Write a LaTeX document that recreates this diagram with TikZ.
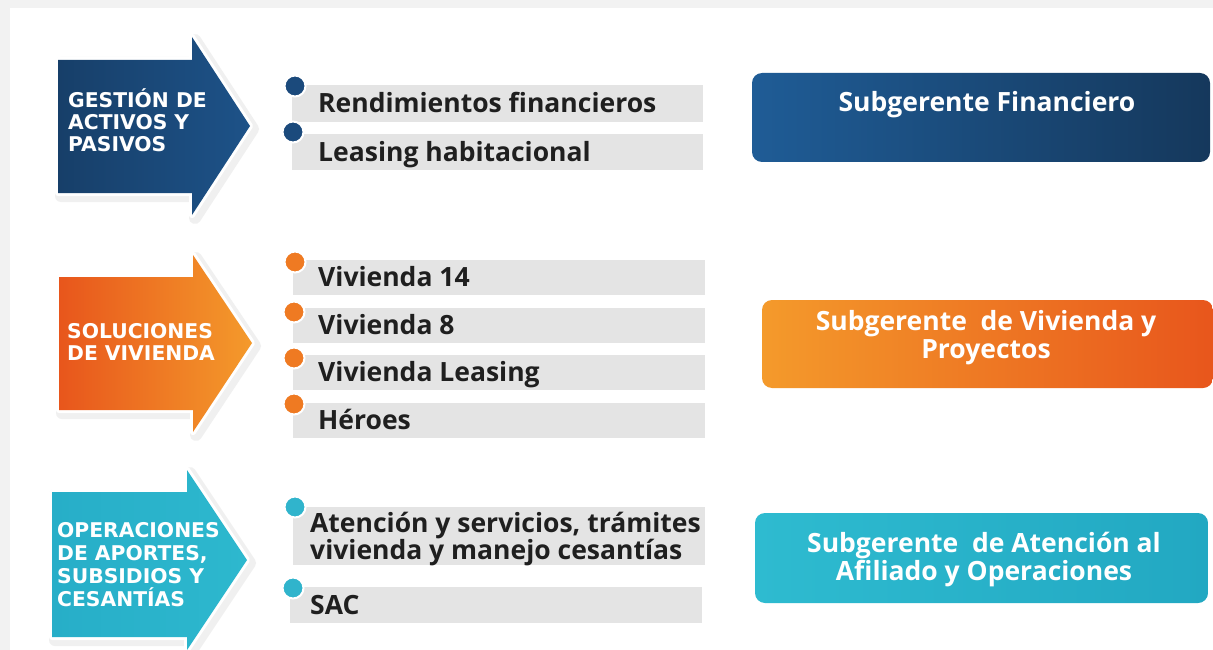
\documentclass[tikz,border=0pt]{standalone}
\usepackage{fontspec}
\setmainfont{Open Sans}
\newfontfamily\capsfont{DejaVu Sans}
\definecolor{barg}{HTML}{E4E4E4}
\definecolor{bgg}{HTML}{F2F2F2}
\definecolor{blueA}{HTML}{173F69}
\definecolor{blueB}{HTML}{1D5288}
\definecolor{blueBoxA}{HTML}{1F5C96}
\definecolor{blueBoxB}{HTML}{15385C}
\definecolor{orA}{HTML}{E8561C}
\definecolor{orB}{HTML}{F49A2B}
\definecolor{tealA}{HTML}{27AEC8}
\definecolor{tealB}{HTML}{2DB8CE}
\definecolor{tealBoxA}{HTML}{2EBBD0}
\definecolor{tealBoxB}{HTML}{22A8C2}
\definecolor{dotBlue}{HTML}{1B4A7C}
\definecolor{dotOr}{HTML}{EF7A22}
\definecolor{dotTeal}{HTML}{30B4CC}
\begin{document}
\begin{tikzpicture}[x=1pt,y=-1pt,
  bar/.style={fill=barg},
  item/.style={anchor=base west, inner sep=0, font=\bfseries\fontsize{26.5}{26.5}\selectfont, text=black!88},
  capt/.style={anchor=base west, inner sep=0, font=\capsfont\bfseries\fontsize{20.3}{20.3}\selectfont, text=white},
  boxtxt/.style={anchor=base, inner sep=0, font=\bfseries\fontsize{26.5}{26.5}\selectfont, text=white},
  glow/.style={draw=black!6, line width=12, line join=round},
  rim/.style={draw=white, line width=6, line join=round},
  dot/.style={circle, draw=white, line width=2, minimum size=21, inner sep=0},
  rbox/.style={rounded corners=10pt}
]
\useasboundingbox (0,0) rectangle (1213,650);
\clip (0,0) rectangle (1213,650);
\fill[bgg] (0,0) rectangle (1213,650);
\fill[white] (10,8) rectangle (1213,650);

% ---------- arrow 1 (blue)
\path[glow] ([shift={(3,3)}]58,60) -- ++(134,0) -- ++(0,-23) -- ++(58,89) -- ++(-58,89) -- ++(0,-22) -- ++(-134,0) -- cycle;
\path[rim] (58,60) -- (192,60) -- (192,37) -- (250,126) -- (192,215) -- (192,193) -- (58,193) -- cycle;
\path[left color=blueA, right color=blueB] (58,60) -- (192,60) -- (192,37) -- (250,126) -- (192,215) -- (192,193) -- (58,193) -- cycle;
\node[capt] (g1) at (68,108) {GESTIÓN DE};
\node[capt] (g2) at (68,130) {ACTIVOS Y};
\node[capt] (g3) at (68,152) {PASIVOS};

% ---------- arrow 2 (orange)
\path[glow] ([shift={(3,3)}]59,277) -- ++(134,0) -- ++(0,-22) -- ++(59,88) -- ++(-59,89) -- ++(0,-22) -- ++(-134,0) -- cycle;
\path[rim] (59,277) -- (193,277) -- (193,255) -- (252,343) -- (193,432) -- (193,410) -- (59,410) -- cycle;
\path[left color=orA, right color=orB] (59,277) -- (193,277) -- (193,255) -- (252,343) -- (193,432) -- (193,410) -- (59,410) -- cycle;
\node[capt] (s1) at (67,338) {SOLUCIONES};
\node[capt] (s2) at (67,360) {DE VIVIENDA};

% ---------- arrow 3 (teal)
\path[glow] ([shift={(3,3)}]52,492) -- ++(135,0) -- ++(0,-22) -- ++(60,90) -- ++(-60,90) -- ++(0,-13) -- ++(-135,0) -- cycle;
\path[rim] (52,492) -- (187,492) -- (187,470) -- (247,560) -- (187,650) -- (187,637) -- (52,637) -- cycle;
\path[left color=tealA, right color=tealB] (52,492) -- (187,492) -- (187,470) -- (247,560) -- (187,650) -- (187,637) -- (52,637) -- cycle;
\node[capt] (o1) at (57,537) {OPERACIONES};
\node[capt] (o2) at (57,560) {DE APORTES,};
\node[capt] (o3) at (57,583) {SUBSIDIOS Y};
\node[capt] (o4) at (57,606) {CESANTÍAS};

% ---------- list blue
\fill[bar] (292,85) rectangle (703,122);
\fill[bar] (292,134) rectangle (703,170);
\node[dot, fill=dotBlue] (db1) at (295,86) {};
\node[dot, fill=dotBlue] (db2) at (293,132) {};
\node[item] (i1) at (318,113) {Rendimientos financieros};
\node[item] (i2) at (318,161) {Leasing habitacional};

% ---------- list orange
\fill[bar] (293,260) rectangle (705,295);
\fill[bar] (293,308) rectangle (705,343);
\fill[bar] (293,355) rectangle (705,390);
\fill[bar] (293,403) rectangle (705,438);
\node[dot, fill=dotOr] (do1) at (295,262) {};
\node[dot, fill=dotOr] (do2) at (294,312) {};
\node[dot, fill=dotOr] (do3) at (294,358) {};
\node[dot, fill=dotOr] (do4) at (294,404) {};
\node[item] (v1) at (318,286) {Vivienda 14};
\node[item] (v2) at (318,334) {Vivienda 8};
\node[item] (v3) at (318,381) {Vivienda Leasing};
\node[item] (v4) at (318,429) {Héroes};

% ---------- list teal
\fill[bar] (293,507) rectangle (705,565);
\fill[bar] (290,587) rectangle (702,623);
\node[dot, fill=dotTeal] (dt1) at (295,507) {};
\node[dot, fill=dotTeal] (dt2) at (293,588) {};
\node[item] (a1) at (310,532) {Atención y servicios, trámites};
\node[item] (a2) at (310,559) {vivienda y manejo cesantías};
\node[item] (a3) at (310,614) {SAC};

% ---------- right boxes
\path[rbox, left color=blueBoxA, right color=blueBoxB] (752,73) rectangle (1210,162);
\node[boxtxt] (b1) at (987,112) {Subgerente Financiero};

\path[rbox, left color=orB, right color=orA] (762,300) rectangle (1213,388);
\node[boxtxt] (b2) at (986,330) {Subgerente\ \ de Vivienda y};
\node[boxtxt] (b3) at (986,358) {Proyectos};

\path[rbox, left color=tealBoxA, right color=tealBoxB] (755,513) rectangle (1208,603);
\node[boxtxt] (b4) at (984,552) {Subgerente\ \ de Atención al};
\node[boxtxt] (b5) at (984,580) {Afiliado y Operaciones};
\end{tikzpicture}
\end{document}
